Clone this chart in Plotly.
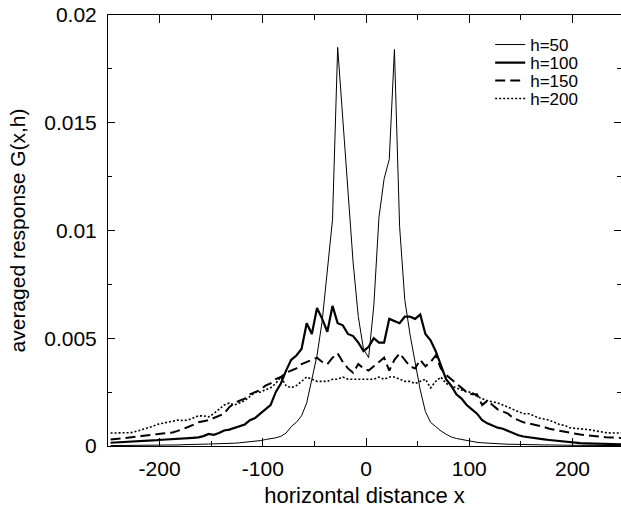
import plotly.graph_objects as go

# sampling positions (horizontal distance x)
x_dist = [-247.5 + 5 * i for i in range(100)]

g_h50 = [
    0.00002, 0.00002, 0.00002, 0.00002, 0.00003, 0.00003, 0.00003, 0.00003, 0.00004, 0.00004,
    0.00004, 0.00005, 0.00005, 0.00005, 0.00006, 0.00006, 0.00007, 0.00007, 0.00008, 0.00009,
    0.0001, 0.0001, 0.00011, 0.00012, 0.00013, 0.00015, 0.00017, 0.0002, 0.00022, 0.00025,
    0.0003, 0.00033, 0.00038, 0.00045, 0.0006, 0.0009, 0.0011, 0.0014, 0.002, 0.0031,
    0.0042, 0.0058, 0.0082, 0.0105, 0.0185, 0.0152, 0.0118, 0.0085, 0.006, 0.0045,
    0.0041, 0.0065, 0.0106, 0.0124, 0.0133, 0.0184, 0.0102, 0.0068, 0.0052, 0.0038,
    0.0026, 0.0016, 0.0011, 0.0009, 0.0007, 0.00055, 0.00042, 0.00035, 0.0003, 0.00025,
    0.0002, 0.00017, 0.00015, 0.00013, 0.00012, 0.0001, 0.00009, 0.00008, 0.00008, 0.00007,
    0.00007, 0.00006, 0.00006, 0.00005, 0.00005, 0.00005, 0.00004, 0.00004, 0.00004, 0.00003,
    0.00003, 0.00003, 0.00003, 0.00003, 0.00002, 0.00002, 0.00002, 0.00002, 0.00002, 0.00002,
]

g_h100 = [
    0.00015, 0.00016, 0.00018, 0.0002, 0.0002, 0.00022, 0.00023, 0.00025, 0.00026, 0.00027,
    0.00029, 0.0003, 0.00031, 0.00033, 0.00035, 0.00036, 0.00038, 0.0004, 0.00046, 0.00056,
    0.00052, 0.0006, 0.00072, 0.00076, 0.00085, 0.00092, 0.001, 0.0012, 0.0013, 0.0015,
    0.0017, 0.0019, 0.0025, 0.0029, 0.0035, 0.004, 0.0042, 0.0045, 0.0057, 0.0052,
    0.0064, 0.0059, 0.0053, 0.0065, 0.0057, 0.0056, 0.0052, 0.0051, 0.0048, 0.0044,
    0.0046, 0.005, 0.0048, 0.0048, 0.0059, 0.0058, 0.0057, 0.006, 0.006, 0.0059,
    0.0061, 0.0052, 0.0049, 0.0044, 0.0037, 0.0031, 0.0028, 0.0024, 0.0022, 0.0019,
    0.0017, 0.0015, 0.0012, 0.00105, 0.00095, 0.00085, 0.0008, 0.0007, 0.00058, 0.0005,
    0.00044, 0.0004, 0.00037, 0.00034, 0.00031, 0.00028, 0.00025, 0.00022, 0.0002, 0.00017,
    0.00015, 0.00013, 0.00012, 0.00011, 0.0001, 0.0001, 0.00009, 0.00009, 0.00008, 0.00008,
]

g_h150 = [
    0.0003, 0.00032, 0.00035, 0.00038, 0.0004, 0.00043, 0.00046, 0.0005, 0.00052, 0.00055,
    0.00058, 0.0006, 0.00063, 0.0007, 0.00078, 0.00088, 0.00098, 0.0011, 0.00115, 0.0012,
    0.0013, 0.0014, 0.0015, 0.0018, 0.002, 0.0021, 0.0022, 0.0024, 0.0025, 0.0026,
    0.0028, 0.0029, 0.0031, 0.0032, 0.0034, 0.0035, 0.0036, 0.0038, 0.0039, 0.004,
    0.0041, 0.0039, 0.0038, 0.0041, 0.0043, 0.0039, 0.0036, 0.0034, 0.0038, 0.0036,
    0.0035, 0.0037, 0.0039, 0.0041, 0.0035, 0.004, 0.0043, 0.004, 0.0037, 0.0036,
    0.004, 0.0037, 0.0039, 0.0042, 0.0036, 0.0033, 0.0031, 0.0029, 0.0027, 0.0025,
    0.0024, 0.0024, 0.0019, 0.0021, 0.0019, 0.0017, 0.0016, 0.0015, 0.0013, 0.0012,
    0.0011, 0.00105, 0.001, 0.00095, 0.00088, 0.0008, 0.00075, 0.0007, 0.00066, 0.0006,
    0.00056, 0.00053, 0.0005, 0.00047, 0.00045, 0.00043, 0.00041, 0.0004, 0.00038, 0.00037,
]

g_h200 = [
    0.0006, 0.0006, 0.0006, 0.0006, 0.00062, 0.00068, 0.00075, 0.00085, 0.0009, 0.001,
    0.00105, 0.0011, 0.00115, 0.0012, 0.00118, 0.0012, 0.0013, 0.0014, 0.0014, 0.00135,
    0.0015, 0.0017, 0.0019, 0.002, 0.0019, 0.002, 0.0021, 0.0023, 0.0025, 0.0025,
    0.0026, 0.0027, 0.0029, 0.0032, 0.0028, 0.0027, 0.0028, 0.003, 0.0032, 0.0031,
    0.003, 0.003, 0.003, 0.0031, 0.0031, 0.0032, 0.0031, 0.0031, 0.0031, 0.0031,
    0.0031, 0.0031, 0.0032, 0.0031, 0.0032, 0.0032, 0.0031, 0.003, 0.003, 0.0029,
    0.003, 0.0031, 0.0027, 0.003, 0.0032, 0.0029, 0.0028, 0.0027, 0.0026, 0.0025,
    0.0025, 0.0023, 0.0022, 0.0021, 0.00205, 0.002, 0.0019, 0.0018, 0.0017, 0.0016,
    0.0015, 0.0015, 0.0014, 0.0013, 0.00125, 0.0012, 0.0011, 0.001, 0.00095, 0.00085,
    0.00082, 0.0008, 0.0008, 0.00075, 0.0007, 0.00065, 0.00062, 0.0006, 0.0006, 0.0006,
]

series_names = ["h=50", "h=100", "h=150", "h=200"]
x_tick_vals = [-200, -100, 0, 100, 200]
x_tick_text = ["-200", "-100", "0", "100", "200"]
y_tick_vals = [0, 0.005, 0.01, 0.015, 0.02]
y_tick_text = ["0", "0.005", "0.01", "0.015", "0.02"]

styles = [
    dict(color="black", width=1, dash="solid"),
    dict(color="black", width=2.2, dash="solid"),
    dict(color="black", width=2, dash="10px,5px"),
    dict(color="black", width=1.6, dash="2px,2px"),
]
all_vals = [g_h50, g_h100, g_h150, g_h200]
legend_ids = ["legend", "legend2", "legend3", "legend4"]

fig = go.Figure()
for name, vals, st, lg in zip(series_names, all_vals, styles, legend_ids):
    fig.add_trace(go.Scatter(x=x_dist, y=vals, mode="lines", name=name,
                             line=st, legend=lg, showlegend=True))

font_family = "Liberation Sans, Arial, sans-serif"
legend_rows_px = [45, 63, 81, 99]
plot_top, plot_bottom = 15, 446
leg_common = dict(xanchor="left", yanchor="middle", bgcolor="rgba(0,0,0,0)",
                  borderwidth=0, font=dict(family=font_family, size=17, color="black"))
layout_legends = {}
for lg, py in zip(legend_ids, legend_rows_px):
    layout_legends[lg] = dict(x=0.745, y=(plot_bottom - py) / (plot_bottom - plot_top), **leg_common)

fig.update_layout(
    width=621, height=509,
    margin=dict(l=108, r=0, t=15, b=63),
    paper_bgcolor="white", plot_bgcolor="white",
    font=dict(family=font_family, size=21, color="black"),
    **layout_legends,
)
fig.update_xaxes(
    range=[-250, 247], showgrid=False, zeroline=False, automargin=False,
    showline=True, linecolor="black", linewidth=1, mirror="ticks",
    ticks="inside", ticklen=8, tickcolor="black",
    tickvals=x_tick_vals, ticktext=x_tick_text,
    tickfont=dict(size=21), ticklabelstandoff=4,
    minor=dict(tickvals=[-150, -50, 50, 150], ticks="inside", ticklen=5, tickcolor="black", showgrid=False),
    title=dict(text="horizontal distance x", font=dict(size=22), standoff=8),
)
fig.update_yaxes(
    range=[0, 0.02], showgrid=False, zeroline=False, automargin=False,
    showline=True, linecolor="black", linewidth=1, mirror="ticks",
    ticks="inside", ticklen=7, tickcolor="black",
    tickvals=y_tick_vals, ticktext=y_tick_text,
    tickfont=dict(size=21), ticklabelstandoff=6,
    minor=dict(tickvals=[0.0025, 0.0075, 0.0125, 0.0175], ticks="inside", ticklen=4, tickcolor="black", showgrid=False),
    title=dict(text="averaged response G(x,h)", font=dict(size=21), standoff=12),
)

fig.write_html(
    "out.html",
    config={"responsive": False, "displayModeBar": False},
    post_script="document.body.style.margin='0';document.body.style.overflow='hidden';",
)
